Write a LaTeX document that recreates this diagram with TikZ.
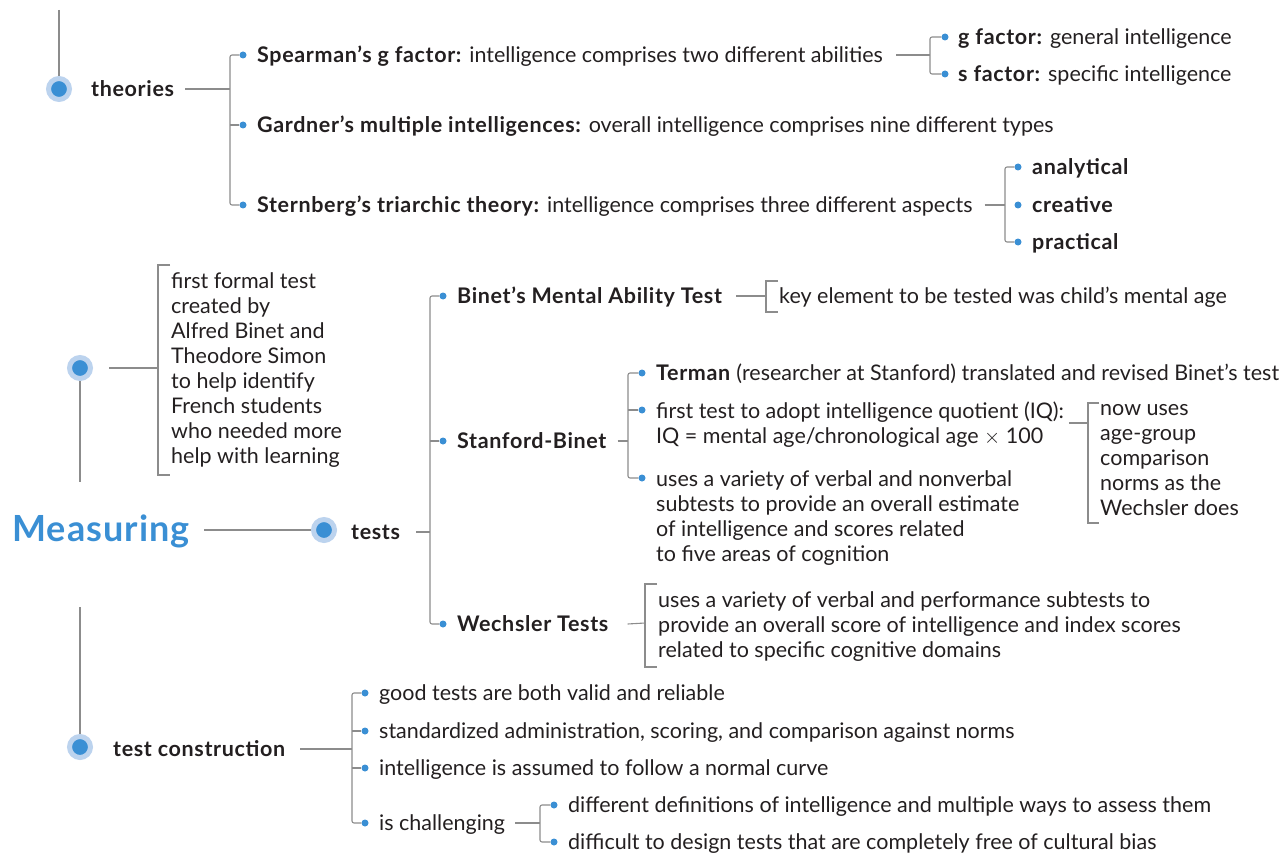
\documentclass[tikz,border=0pt]{standalone}
\usepackage{fontspec}
\setmainfont{Lato}[BoldFeatures={LetterSpace=3}]
\usepackage{tikz}
\usetikzlibrary{calc}
\definecolor{hubblue}{HTML}{3A8FD4}
\definecolor{halo}{HTML}{BCD3EE}
\definecolor{linegray}{HTML}{8C8C8C}
\definecolor{inkdark}{HTML}{231F20}

\begin{document}
\begin{tikzpicture}[x=1pt,y=-1pt,
    every node/.style={font=\fontsize{21.5}{25}\selectfont,text=inkdark},
    txt/.style={anchor=west,inner sep=0pt,text height=18pt,text depth=3pt},
    bold/.style={font=\fontsize{21.5}{25}\selectfont\bfseries},
    multi/.style={anchor=north west,inner xsep=0pt,inner ysep=0pt,align=left},
    hub/.style={circle,fill=hubblue,draw=halo,line width=5pt,minimum size=21pt,inner sep=0pt},
    dot/.style={circle,fill=hubblue,minimum size=7pt,inner sep=0pt},
    conn/.style={draw=linegray,line width=1.1pt,rounded corners=2pt}]
  \useasboundingbox (0,0) rectangle (1287,853);

  % hubs and titles
  \coordinate (top) at (59,10);
  \node[hub] (theoh) at (59,89) {};
  \node[txt,bold] (theo) at (91,89) {theories};
  \node[hub] (histh) at (80,368) {};
  \coordinate (histend) at (80,482);
  \node[anchor=base west,inner sep=0pt,text=hubblue,font=\fontsize{36}{40}\selectfont\bfseries] (meas) at (12,541) {Measuring};
  \node[hub] (testh) at (324,530) {};
  \node[txt,bold] (tests) at (351,532) {tests};
  \coordinate (tcstart) at (80,607);
  \node[hub] (tch) at (80,747) {};
  \node[txt,bold] (tc) at (113,749) {test construction};

  \draw[conn] (top) -- (theoh);
  \draw[conn] (histh) -- (histend);
  \draw[conn] (tcstart) -- (tch);
  \draw[conn] ([xshift=14pt]meas.east |- testh) -- (testh);

  % theories
  \coordinate (bth) at (230,89);
  \node[dot] (d11) at (243,55) {};
  \node[dot] (d12) at (243,125) {};
  \node[dot] (d13) at (243,205) {};
  \node[txt] (spear) at (257,55) {\textbf{Spearman’s g factor:} intelligence comprises two different abilities};
  \node[txt] (gard) at (257,125) {\textbf{Gardner’s multiple intelligences:} overall intelligence comprises nine different types};
  \node[txt] (stern) at (257,205) {\textbf{Sternberg’s triarchic theory:} intelligence comprises three different aspects};
  \draw[conn] ([xshift=11pt]theo.east) -- (bth);
  \draw[conn] (d11) -| (bth) |- (d13);
  \draw[conn] (d12) -- (d12 -| bth);

  \coordinate (bsp) at (930,55);
  \node[dot] (d21) at (945,37) {};
  \node[dot] (d22) at (945,74) {};
  \node[txt] (gfac) at (958,37) {\textbf{g factor:} general intelligence};
  \node[txt] (sfac) at (958,74) {\textbf{s factor:} specific intelligence};
  \draw[conn] ([xshift=13pt]spear.east) -- (bsp);
  \draw[conn] (d21) -| (bsp) |- (d22);

  \coordinate (bst) at (1005,205);
  \node[dot] (d31) at (1018,167) {};
  \node[dot] (d32) at (1018,205) {};
  \node[dot] (d33) at (1018,242) {};
  \node[txt,bold] (anal) at (1032,167) {analytical};
  \node[txt,bold] (crea) at (1032,205) {creative};
  \node[txt,bold] (prac) at (1032,242) {practical};
  \draw[conn] ([xshift=12pt]stern.east) -- (bst);
  \draw[conn] (d31) -| (bst) |- (d33);

  % history of testing
  \node[multi] (first) at (171,271) {\strut first formal test\\created by\\Alfred Binet and\\Theodore Simon\\to help identify\\French students\\who needed more\\help with learning};
  \draw[conn] ([xshift=16pt]histh.east) -- (158,368);
  \draw[conn,rounded corners=0pt] (170,265) -- (158,265) -- (158,475) -- (170,475);

  % tests
  \coordinate (bte) at (430,532);
  \node[dot] (d41) at (443,296) {};
  \node[dot] (d42) at (443,441) {};
  \node[dot] (d43) at (443,624) {};
  \node[txt,bold] (binet) at (457,296) {Binet’s Mental Ability Test};
  \node[txt,bold] (sb) at (457,441) {Stanford-Binet};
  \node[txt,bold] (wech) at (457,624) {Wechsler Tests};
  \draw[conn] ([xshift=16pt]tests.east) -- (bte);
  \draw[conn] (d41) -| (bte) |- (d43);
  \draw[conn] (d42) -- (d42 -| bte);

  \node[txt] (key) at (779,296) {key element to be tested was child’s mental age};
  \draw[conn] ([xshift=14pt]binet.east) -- (766,296);
  \draw[conn,rounded corners=0pt] (778,281) -- (766,281) -- (766,312) -- (778,312);

  \coordinate (bsb) at (628,441);
  \node[dot] (d51) at (642,373) {};
  \node[dot] (d52) at (642,410) {};
  \node[dot] (d53) at (642,478) {};
  \node[txt] (term) at (656,373) {\textbf{Terman} (researcher at Stanford) translated and revised Binet’s test};
  \node[multi] (iq) at (656,401) {\strut first test to adopt intelligence quotient (IQ):\\IQ = mental age/chronological age $\times$ 100};
  \node[multi] (uses) at (656,469) {\strut uses a variety of verbal and nonverbal\\subtests to provide an overall estimate\\of intelligence and scores related\\to five areas of cognition};
  \draw[conn] ([xshift=5pt]iq.east |- 0,423) -- (1088,423);
  \draw[conn] ([xshift=11pt]sb.east) -- (bsb);
  \draw[conn] (d51) -| (bsb) |- (d53);
  \draw[conn] (d52) -- (d52 -| bsb);

  \node[multi] (norms) at (1100,398) {\strut now uses\\age-group\\comparison\\norms as the\\Wechsler does};
  \draw[conn,rounded corners=0pt] (1099,403) -- (1088,403) -- (1088,523) -- (1099,523);

  \node[multi] (wdesc) at (658,590) {\strut uses a variety of verbal and performance subtests to\\provide an overall score of intelligence and index scores\\related to specific cognitive domains};
  \draw[conn] ([xshift=19pt]wech.east) -- (645,623);
  \draw[conn,rounded corners=0pt] (657,584) -- (645,584) -- (645,667) -- (657,667);

  % test construction
  \coordinate (btc) at (352,749);
  \node[dot] (d61) at (365,693) {};
  \node[dot] (d62) at (365,731) {};
  \node[dot] (d63) at (365,768) {};
  \node[dot] (d64) at (365,823) {};
  \node[txt] (good) at (379,693) {good tests are both valid and reliable};
  \node[txt] (stand) at (379,731) {standardized administration, scoring, and comparison against norms};
  \node[txt] (normal) at (379,768) {intelligence is assumed to follow a normal curve};
  \node[txt] (chall) at (379,823) {is challenging};
  \draw[conn] ([xshift=15pt]tc.east) -- (btc);
  \draw[conn] (d61) -| (btc) |- (d64);
  \draw[conn] (d62) -- (d62 -| btc);
  \draw[conn] (d63) -- (d63 -| btc);

  \coordinate (bch) at (540,823);
  \node[dot] (d71) at (554,805) {};
  \node[dot] (d72) at (554,842) {};
  \node[txt] (defs) at (568,805) {different definitions of intelligence and multiple ways to assess them};
  \node[txt] (bias) at (568,842) {difficult to design tests that are completely free of cultural bias};
  \draw[conn] ([xshift=10pt]chall.east) -- (bch);
  \draw[conn] (d71) -| (bch) |- (d72);
\end{tikzpicture}
\end{document}
